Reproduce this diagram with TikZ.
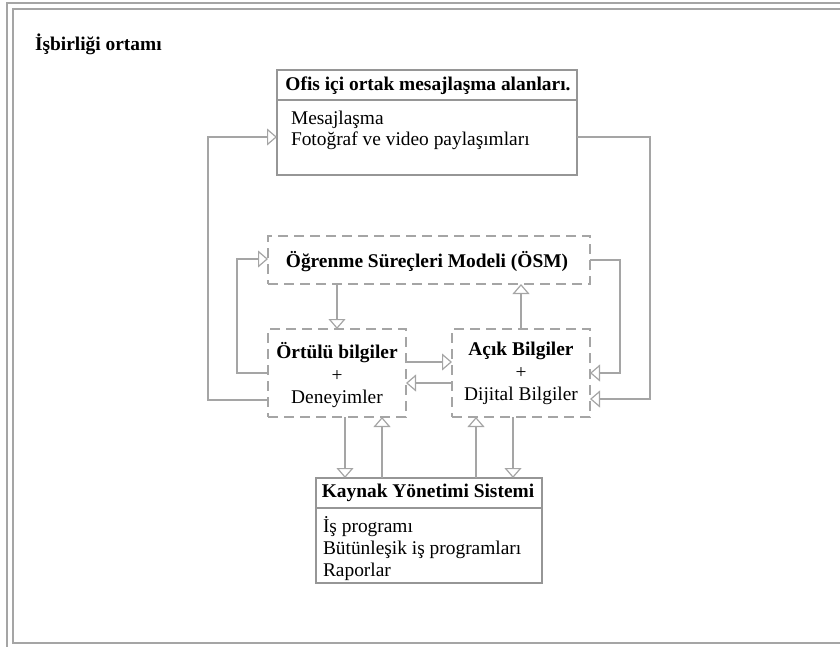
\documentclass[tikz,border=0pt]{standalone}
\usepackage{fontspec}
\setmainfont{Liberation Serif}
\usetikzlibrary{arrows.meta}
\definecolor{framegray}{RGB}{165,165,165}
\definecolor{boxgray}{RGB}{150,150,150}
\definecolor{linegray}{RGB}{165,165,165}
\tikzset{
  solidbox/.style={draw=boxgray, line width=1.1pt, inner sep=0pt, outer sep=0pt},
  dashbox/.style={draw=linegray, line width=1.3pt, dash pattern=on 10pt off 6pt, inner sep=0pt, outer sep=0pt},
  txt/.style={inner sep=0pt, outer sep=0pt, text=black},
  conn/.style={draw=linegray, line width=1.2pt, -{Triangle[open, length=10pt, width=17pt]}},
  frameline/.style={draw=framegray, line width=1.3pt}
}
\begin{document}
\begin{tikzpicture}[x=1pt, y=-1pt, font=\fontsize{19.4}{22}\selectfont]
\useasboundingbox (0,0) rectangle (840,646);
\begin{scope}
\clip (0,0) rectangle (840,646);
\draw[frameline] (850,3) -- (7,3) -- (7,660);
\draw[frameline] (850,9) -- (13,9) -- (13,643) -- (850,643);
\end{scope}

% title
\node[txt, anchor=base west] (title) at (35,50) {\bfseries İşbirliği ortamı};

% boxes
\node[solidbox, minimum width=300pt, minimum height=105pt] (ofis) at (427,122.5) {};
\node[dashbox, minimum width=322pt, minimum height=48pt] (osm) at (429,260) {};
\node[dashbox, minimum width=138pt, minimum height=88pt] (ortulu) at (337,373) {};
\node[dashbox, minimum width=138pt, minimum height=88pt] (acik) at (521,373) {};
\node[solidbox, minimum width=226pt, minimum height=105pt] (kaynak) at (429,530.5) {};

% dividers
\draw[draw=boxgray, line width=1.1pt] (ofis.west |- 0,100) -- (ofis.east |- 0,100);
\draw[draw=boxgray, line width=1.1pt] (kaynak.west |- 0,508) -- (kaynak.east |- 0,508);

% texts
\node[txt, anchor=base] (ofish) at (428,90) {\bfseries Ofis içi ortak mesajlaşma alanları.};
\node[txt, anchor=base west] (ofis1) at (291,124) {Mesajlaşma};
\node[txt, anchor=base west] (ofis2) at (291,145) {Fotoğraf ve video paylaşımları};

\node[txt, anchor=base] (osmt) at (427,267) {\bfseries Öğrenme Süreçleri Modeli (ÖSM)};

\node[txt, anchor=base] (ort1) at (337,358) {\bfseries Örtülü bilgiler};
\node[txt, anchor=base] (ort2) at (337,381) {+};
\node[txt, anchor=base] (ort3) at (337,403) {Deneyimler};

\node[txt, anchor=base] (acik1) at (521,355) {\bfseries Açık Bilgiler};
\node[txt, anchor=base] (acik2) at (521,378) {+};
\node[txt, anchor=base] (acik3) at (521,400) {Dijital Bilgiler};

\node[txt, anchor=base] (kayh) at (428,497) {\bfseries Kaynak Yönetimi Sistemi};
\node[txt, anchor=base west] (kay1) at (323,532) {İş programı};
\node[txt, anchor=base west] (kay2) at (323,554) {Bütünleşik iş programları};
\node[txt, anchor=base west] (kay3) at (323,576) {Raporlar};

% connectors
\draw[conn] (ortulu.west |- 0,400) -| (208,137) -- (ofis.west |- 0,137);
\draw[conn] (ofis.east |- 0,137) -| (650,399) -- (acik.east |- 0,399);
\draw[conn] (osm.east |- 0,260) -| (620,373) -- (acik.east |- 0,373);
\draw[conn] (ortulu.west |- 0,373) -| (237,259) -- (osm.west |- 0,259);

\draw[conn] (osm.south -| 337,0) -- (ortulu.north -| 337,0);
\draw[conn] (acik.north -| 521,0) -- (osm.south -| 521,0);
\draw[conn] (ortulu.east |- 0,362) -- (acik.west |- 0,362);
\draw[conn] (acik.west |- 0,383) -- (ortulu.east |- 0,383);

\draw[conn] (ortulu.south -| 345,0) -- (kaynak.north -| 345,0);
\draw[conn] (kaynak.north -| 382,0) -- (ortulu.south -| 382,0);
\draw[conn] (kaynak.north -| 476,0) -- (acik.south -| 476,0);
\draw[conn] (acik.south -| 513,0) -- (kaynak.north -| 513,0);
\end{tikzpicture}
\end{document}
